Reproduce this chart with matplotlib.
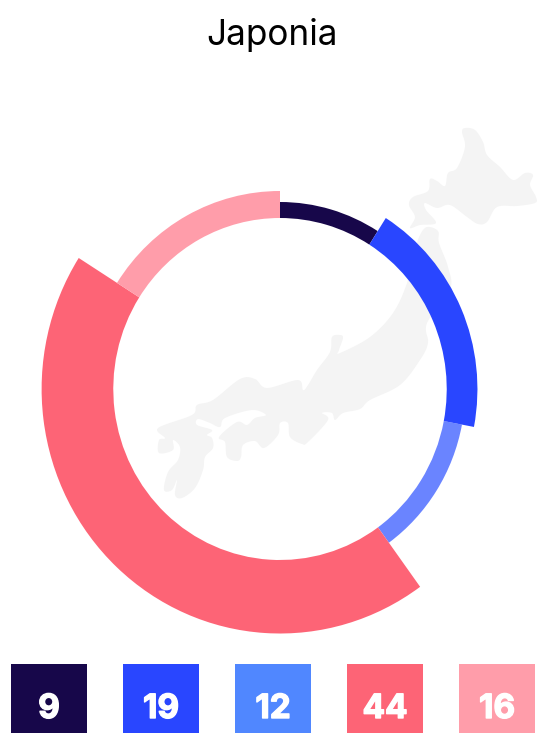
import matplotlib
matplotlib.use("Agg")
import matplotlib.pyplot as plt
from matplotlib import font_manager
from matplotlib.patches import Polygon, Rectangle, Wedge
from matplotlib.patheffects import withStroke
from matplotlib.transforms import Affine2D
import numpy as np

TITLE = "Japonia"
values = [9, 19, 12, 44, 16]
outer_radii = [187, 202.5, 190, 244.5, 198]
ring_colors = ["#17074a", "#2946ff", "#6a84ff", "#fd6476", "#ff9daa"]
box_colors = ["#17074a", "#2946ff", "#5087ff", "#fd6476", "#ff9daa"]

# traced outlines of the islands, in image pixels
hokkaido = [(465, 128), (475, 130), (483, 142), (487, 155), (500, 167), (513, 180), (525, 173), (533, 175),
            (530, 185), (536, 197), (535, 203), (517, 206), (497, 207), (487, 222), (478, 224), (467, 217),
            (450, 205), (437, 208), (425, 203), (426, 210), (436, 223), (420, 225), (410, 228), (415, 217),
            (409, 205), (413, 197), (428, 191), (430, 179), (437, 181), (445, 186), (448, 173), (457, 168),
            (465, 147), (462, 132)]
honshu = [(427, 227), (438, 231), (439, 243), (448, 267), (450, 290), (427, 323), (428, 343), (420, 360),
          (400, 385), (370, 400), (360, 409), (343, 413), (335, 420), (332, 413), (322, 413), (328, 420),
          (308, 442), (302, 444), (290, 437), (288, 423), (280, 423), (278, 435), (264, 448), (255, 441),
          (243, 445), (241, 457), (237, 461), (227, 457), (225, 442), (219, 437), (237, 422), (247, 425),
          (255, 418), (266, 415), (252, 410), (225, 418), (220, 427), (210, 423), (198, 419), (197, 425),
          (212, 430), (207, 435), (212, 438), (213, 448), (205, 457), (203, 470), (195, 488), (182, 498),
          (175, 495), (177, 480), (172, 490), (164, 490), (168, 472), (178, 460), (180, 447), (173, 440),
          (173, 450), (159, 453), (159, 440), (165, 438), (158, 428), (192, 415), (197, 405), (213, 400),
          (240, 379), (255, 379), (267, 388), (298, 380), (303, 390), (308, 385), (317, 370), (330, 352),
          (332, 337), (340, 335), (343, 338), (339, 350), (340, 353), (370, 337), (393, 313), (407, 283),
          (415, 250), (420, 235)]


def smooth_outline(points, steps=8):
    # closed catmull-rom through the traced points
    pts = np.array(points, dtype=float)
    out = []
    for i in range(len(pts)):
        p0, p1, p2, p3 = pts[i - 1], pts[i], pts[(i + 1) % len(pts)], pts[(i + 2) % len(pts)]
        for t in np.linspace(0, 1, steps, endpoint=False):
            out.append(0.5 * (2 * p1 + (p2 - p0) * t + (2 * p0 - 5 * p1 + 4 * p2 - p3) * t ** 2
                              + (3 * p1 - p0 - 3 * p2 + p3) * t ** 3))
    return np.array(out)


installed = {f.name for f in font_manager.fontManager.ttflist}
title_font = "Inter" if "Inter" in installed else "DejaVu Sans"

fig = plt.figure(figsize=(5.47, 7.33), dpi=100)
ax = fig.add_axes([0, 0, 1, 1])
ax.set_xlim(0, 547)
ax.set_ylim(733, 0)
ax.axis("off")

for outline in (hokkaido, honshu):
    ax.add_patch(Polygon(smooth_outline(outline), closed=True, facecolor="#f4f4f4", edgecolor="none", zorder=1))

# the ring is slightly squeezed in x; y axis is flipped, so angles run clockwise from the right
ring_transform = Affine2D().scale(0.975, 1).translate(280, 389) + ax.transData
inner_radius = 171
start = -90.0
for value, radius, color in zip(values, outer_radii, ring_colors):
    end = start + value * 3.6
    ax.add_patch(Wedge((0, 0), radius, start, end, width=radius - inner_radius, facecolor=color,
                       edgecolor="none", transform=ring_transform, zorder=2 + (radius > 195)))
    start = end

ax.text(272.5, 44.5, TITLE, ha="center", va="baseline", fontsize=25.3, family=title_font, color="black")

box_lefts = [11, 123, 235, 347, 459]
for left, value, color in zip(box_lefts, values, box_colors):
    ax.add_patch(Rectangle((left, 664), 76, 69, facecolor=color, edgecolor="none", zorder=2))
    ax.text(left + 38, 718, str(value), ha="center", va="baseline", fontsize=24, family=title_font,
            fontweight="bold", color="white", zorder=3,
            path_effects=[withStroke(linewidth=1.0, foreground="white")])

fig.savefig("out.png", dpi=100)
plt.close(fig)
